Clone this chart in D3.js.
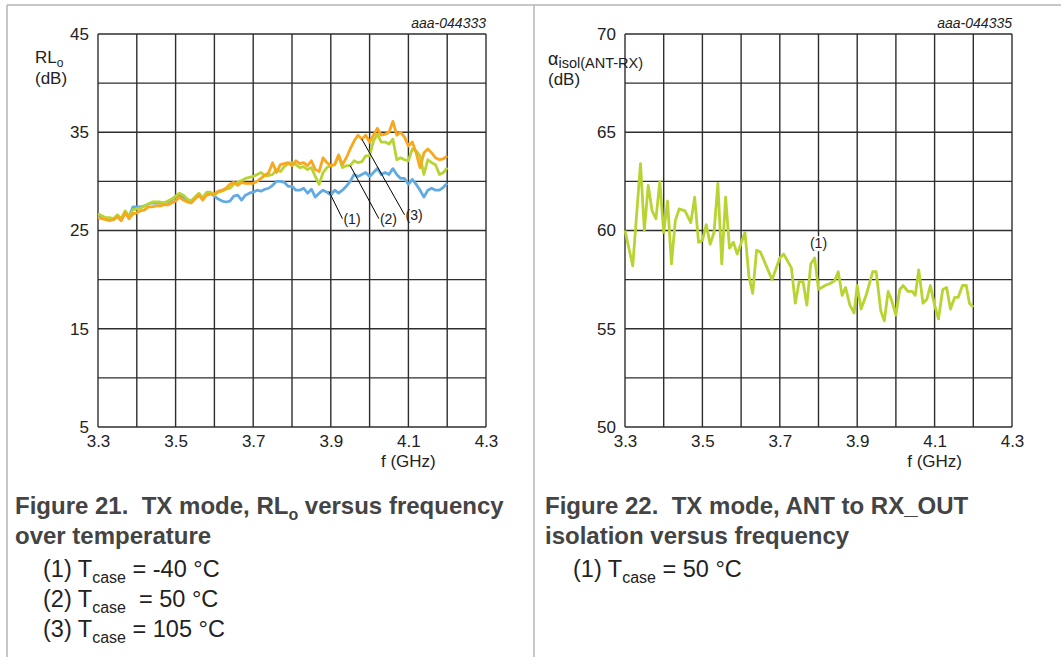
<!DOCTYPE html>
<html><head><meta charset="utf-8">
<script src="https://cdn.jsdelivr.net/npm/d3@7"></script>
<style>
html,body{margin:0;padding:0;background:#fff;}
svg{display:block;font-family:"Liberation Sans",Arial,sans-serif;}
</style></head>
<body><svg id="c" width="1061" height="657"></svg>
<script>
// ---------- data ----------
const freqRL = [3.30,3.31,3.32,3.33,3.34,3.35,3.36,3.37,3.38,3.39,3.40,3.41,3.42,3.43,3.44,3.45,3.46,3.47,3.48,3.49,
3.50,3.51,3.52,3.53,3.54,3.55,3.56,3.57,3.58,3.59,3.60,3.61,3.62,3.63,3.64,3.65,3.66,3.67,3.68,3.69,
3.70,3.71,3.72,3.73,3.74,3.75,3.76,3.77,3.78,3.79,3.80,3.81,3.82,3.83,3.84,3.85,3.86,3.87,3.88,3.89,
3.90,3.91,3.92,3.93,3.94,3.95,3.96,3.97,3.98,3.99,4.00,4.01,4.02,4.03,4.04,4.05,4.06,4.07,4.08,4.09,
4.10,4.11,4.12,4.13,4.14,4.15,4.16,4.17,4.18,4.19,4.20];
const rlM40 = [26.5,26.3,26.2,26.1,26.1,26.5,26.1,26.9,26.4,27.4,27.4,27.4,27.5,27.7,27.8,27.8,27.8,27.8,27.9,28.1,
28.4,28.6,28.4,28.1,28.0,28.3,28.6,28.3,28.8,28.8,28.5,28.2,28.0,27.9,28.0,28.5,28.6,28.1,28.6,28.8,
28.9,29.1,29.0,29.2,29.3,29.6,30.0,30.0,29.9,29.5,29.5,29.1,29.1,29.3,28.8,29.2,28.4,28.8,29.1,28.9,
28.6,29.1,28.8,29.1,29.5,30.0,30.7,30.5,30.7,30.9,30.5,30.9,31.3,30.7,30.9,30.7,31.3,30.7,30.3,30.3,
29.7,30.2,29.7,29.1,28.4,29.1,29.3,29.1,29.1,29.4,29.8];
const rl50 = [26.7,26.5,26.3,26.3,26.2,26.6,26.2,27.0,26.4,27.1,27.2,27.3,27.5,27.7,27.9,27.9,27.9,27.8,28.0,28.2,
28.5,28.8,28.6,28.2,28.0,28.4,28.8,28.3,28.9,28.9,28.6,28.9,29.0,29.2,29.3,29.7,29.9,30.1,30.3,30.4,
30.5,30.7,30.9,30.6,30.6,30.7,31.2,31.0,31.5,31.8,31.9,31.7,31.4,31.5,31.2,31.4,30.5,29.7,30.9,31.4,
31.6,31.7,32.6,31.4,31.6,31.6,32.1,31.9,32.0,32.6,32.6,34.1,34.8,34.0,34.0,33.8,34.3,32.2,32.4,32.2,
32.1,33.3,33.1,32.6,30.7,32.2,31.9,31.7,30.7,30.9,31.4];
const rl105 = [26.3,26.2,26.1,26.0,26.1,26.4,26.0,26.8,26.2,26.7,26.8,27.0,27.1,27.4,27.4,27.5,27.5,27.6,27.6,27.8,
28.0,28.4,28.1,27.9,27.8,28.2,28.6,28.1,28.6,28.7,28.7,29.0,29.1,29.3,29.7,29.9,29.6,29.9,29.8,29.8,
29.8,30.0,30.3,30.6,30.9,31.9,30.9,31.7,31.8,31.9,31.6,32.1,31.8,31.9,31.6,32.1,31.2,31.0,32.4,31.9,
31.6,31.7,32.7,31.7,32.4,33.3,34.1,34.7,34.3,34.7,34.0,34.7,35.4,34.7,34.8,35.0,36.1,34.7,35.0,34.5,
33.6,34.0,32.9,31.4,32.9,33.3,32.9,32.4,32.2,32.3,32.6];

const freqIso = [3.30,3.32,3.34,3.35,3.36,3.37,3.38,3.39,3.40,3.41,3.42,3.43,3.44,3.455,3.47,3.48,3.49,3.50,3.51,3.52,
3.53,3.54,3.55,3.56,3.57,3.58,3.59,3.61,3.62,3.63,3.64,3.65,3.665,3.68,3.70,3.71,3.73,3.74,3.75,3.76,
3.77,3.78,3.79,3.80,3.817,3.83,3.842,3.851,3.861,3.87,3.881,3.892,3.90,3.91,3.923,3.94,3.949,3.961,3.97,3.98,
3.988,4.00,4.01,4.019,4.031,4.042,4.05,4.059,4.07,4.08,4.089,4.10,4.11,4.121,4.131,4.141,4.152,4.161,4.172,4.182,
4.19,4.20];
const iso50 = [60.0,58.2,63.4,60.0,62.3,61.0,60.6,62.5,59.9,61.5,58.3,60.5,61.1,61.0,60.4,61.7,59.4,59.5,60.3,59.3,
59.9,62.4,58.3,61.7,59.1,59.4,58.8,59.9,57.7,56.8,59.0,58.9,58.2,57.5,58.6,58.8,58.1,56.3,57.4,57.4,
56.2,58.3,58.6,57.0,57.2,57.3,57.45,57.9,56.7,57.1,56.2,55.8,57.2,56.0,56.7,57.9,57.9,55.9,55.4,56.9,
56.5,55.7,57.0,57.2,56.9,56.9,56.7,58.0,56.3,56.5,57.2,56.2,55.5,57.0,57.1,56.0,56.6,56.6,57.2,57.2,
56.3,56.1];

const xTicks = [3.3,3.5,3.7,3.9,4.1,4.3];
const yTicksRL = [5,15,25,35,45];
const yTicksIso = [50,55,60,65,70];

// ---------- drawing ----------
const svg = d3.select("#c");
const seriesColors = {blue:"#62abe2", green:"#b9d432", orange:"#f8a71e"};

// frame
svg.append("line").attr("x1",7).attr("x2",1061).attr("y1",5).attr("y2",5).attr("stroke","#b4b4b4").attr("stroke-width",1.5);
svg.append("line").attr("x1",7).attr("x2",7).attr("y1",5).attr("y2",657).attr("stroke","#b4b4b4").attr("stroke-width",1.5);
svg.append("line").attr("x1",534).attr("x2",534).attr("y1",5).attr("y2",657).attr("stroke","#b4b4b4").attr("stroke-width",1.5);

function panel(o){
  const x = d3.scaleLinear().domain([3.3,4.3]).range([o.left,o.right]);
  const y = d3.scaleLinear().domain(o.yDomain).range([427,34]);
  const g = svg.append("g");
  const gx = d3.range(0,11).map(i=>3.3+i*0.1);
  const ny = Math.round((o.yDomain[1]-o.yDomain[0])/o.yStep);
  const gy = d3.range(0,ny+1).map(i=>o.yDomain[0]+i*o.yStep);
  g.append("g").selectAll("line").data(gx).join("line")
    .attr("x1",d=>x(d)).attr("x2",d=>x(d)).attr("y1",y(o.yDomain[0])).attr("y2",y(o.yDomain[1]))
    .attr("stroke","#2e2e2e").attr("stroke-width",1.4);
  g.append("g").selectAll("line").data(gy).join("line")
    .attr("x1",o.left).attr("x2",o.right).attr("y1",d=>y(d)).attr("y2",d=>y(d))
    .attr("stroke","#2e2e2e").attr("stroke-width",1.4);
  const ax = g.append("g").attr("transform",`translate(0,${y(o.yDomain[0])})`)
    .call(d3.axisBottom(x).tickValues(xTicks).tickSize(0).tickPadding(8).tickFormat(d3.format(".1f")));
  const ay = g.append("g").attr("transform",`translate(${o.left},0)`)
    .call(d3.axisLeft(y).tickValues(o.yTicks).tickSize(0).tickPadding(9).tickFormat(d3.format("d")));
  [ax,ay].forEach(a=>{a.select(".domain").remove();
    a.selectAll("text").attr("font-size",17).attr("fill","#222").attr("font-family","Liberation Sans, Arial, sans-serif");});
  ax.selectAll("text").attr("dy","0.71em");
  g.append("text").attr("x",x(4.1)).attr("y",467).attr("text-anchor","middle")
    .attr("font-size",17).attr("fill","#222").text("f (GHz)");
  g.append("text").attr("x",o.right).attr("y",28).attr("text-anchor","end")
    .attr("font-size",14).attr("font-style","italic").attr("fill","#222").text(o.id);
  const lg = g.append("g");
  o.series.forEach(s=>{
    const line = d3.line().x((d,i)=>x(s.f[i])).y(d=>y(d));
    lg.append("path").datum(s.v).attr("d",line).attr("fill","none")
      .attr("stroke",s.color).attr("stroke-width",2.8).attr("stroke-linejoin","round");
  });
  return {g,x,y};
}

// Left panel
const L = panel({left:98,right:486,yDomain:[5,45],yStep:5,yTicks:yTicksRL,id:"aaa-044333",
  series:[{f:freqRL,v:rlM40,color:seriesColors.blue},{f:freqRL,v:rl50,color:seriesColors.green},{f:freqRL,v:rl105,color:seriesColors.orange}]});
const tl = svg.append("text").attr("x",35).attr("y",63).attr("font-size",17).attr("fill","#222");
tl.append("tspan").text("RL");
tl.append("tspan").attr("font-size",12).attr("dy",4).text("o");
svg.append("text").attr("x",35).attr("y",84).attr("font-size",17).attr("fill","#222").text("(dB)");
const annL = [
  {label:"(1)", f0:3.895, v0:29.0, f1:3.930, v1:26.2},
  {label:"(2)", f0:3.950, v0:31.6, f1:4.024, v1:26.2},
  {label:"(3)", f0:3.980, v0:34.3, f1:4.090, v1:26.6}
];
annL.forEach(a=>{
  L.g.append("line").attr("x1",L.x(a.f0)).attr("y1",L.y(a.v0)).attr("x2",L.x(a.f1)).attr("y2",L.y(a.v1))
    .attr("stroke","#000").attr("stroke-width",1);
  L.g.append("text").attr("x",L.x(a.f1)+1).attr("y",L.y(a.v1)+5).attr("font-size",14).attr("fill","#222").text(a.label);
});

// Right panel
const R = panel({left:625,right:1012,yDomain:[50,70],yStep:2.5,yTicks:yTicksIso,id:"aaa-044335",
  series:[{f:freqIso,v:iso50,color:seriesColors.green}]});
const tr = svg.append("text").attr("x",548).attr("y",65).attr("font-size",18).attr("fill","#222");
tr.append("tspan").text("α");
tr.append("tspan").attr("font-size",14.5).attr("dy",3).text("isol(ANT-RX)");
svg.append("text").attr("x",548).attr("y",85).attr("font-size",17).attr("fill","#222").text("(dB)");
R.g.append("rect").attr("x",R.x(3.8)-9).attr("y",R.y(59.1)-12).attr("width",18).attr("height",15).attr("fill","#fff");
R.g.append("text").attr("x",R.x(3.8)).attr("y",R.y(59.1)).attr("text-anchor","middle").attr("font-size",14).attr("fill","#222").text("(1)");

// Captions
function caption(x, lines){
  lines.forEach(l=>{
    const t = svg.append("text").attr("x",x+(l.indent||0)).attr("y",l.y).attr("font-size",l.bold?24:23.5)
      .attr("font-weight",l.bold?"bold":"normal").attr("fill",l.bold?"#444":"#222");
    l.parts.forEach(p=>{
      if(p.sub){ t.append("tspan").attr("font-size",16).attr("dy",6).text(p.t); }
      else { t.append("tspan").attr("dy",p.reset?-6:0).text(p.t); }
    });
  });
}
caption(15,[
  {y:514,bold:true,parts:[{t:"Figure 21.\u00a0\u00a0TX mode, RL"},{t:"o",sub:true},{t:" versus frequency",reset:true}]},
  {y:544,bold:true,parts:[{t:"over temperature"}]},
  {y:577,indent:28,parts:[{t:"(1) T"},{t:"case",sub:true},{t:" = -40 °C",reset:true}]},
  {y:607,indent:28,parts:[{t:"(2) T"},{t:"case",sub:true},{t:"\u00a0 = 50 °C",reset:true}]},
  {y:637,indent:28,parts:[{t:"(3) T"},{t:"case",sub:true},{t:" = 105 °C",reset:true}]}
]);
caption(545,[
  {y:514,bold:true,parts:[{t:"Figure 22.\u00a0\u00a0TX mode, ANT to RX_OUT"}]},
  {y:544,bold:true,parts:[{t:"isolation versus frequency"}]},
  {y:577,indent:28,parts:[{t:"(1) T"},{t:"case",sub:true},{t:" = 50 °C",reset:true}]}
]);
</script></body></html>
